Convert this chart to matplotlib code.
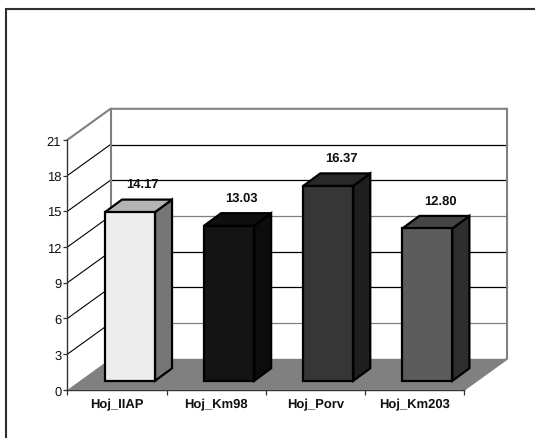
import matplotlib
matplotlib.use("Agg")
import matplotlib.pyplot as plt
from matplotlib.lines import Line2D
from matplotlib.patches import Polygon

categories = ["Hoj_IIAP", "Hoj_Km98", "Hoj_Porv", "Hoj_Km203"]
values = [14.17, 13.03, 16.37, 12.80]
labels = ["14.17", "13.03", "16.37", "12.80"]
yticks = [0, 3, 6, 9, 12, 15, 18, 21]
front = ["#ececec", "#141414", "#363636", "#5c5c5c"]
top = ["#b4b4b4", "#0f0f0f", "#282828", "#454545"]
side = ["#767676", "#0c0c0c", "#1e1e1e", "#2e2e2e"]
grid_colors = ["#808080", "#000000", "#000000", "#808080", "#000000", "#000000"]

W, H = 535, 439
plt.rcParams["font.family"] = ["Liberation Sans", "DejaVu Sans"]
plt.rcParams["text.hinting"] = "no_hinting"
plt.rcParams["text.hinting_factor"] = 1
fig = plt.figure(figsize=(W / 100, H / 100), dpi=100)
fig.patch.set_facecolor("white")
# outer chart border: only top and left edges are visible, running off the picture
fig.add_artist(Line2D([5.5 / W, 5.5 / W, 1], [0, 1 - 10 / H, 1 - 10 / H], transform=fig.transFigure,
                      color="#2e2e2e", lw=1.5, solid_joinstyle="miter"))
L, R, T, B = 67.5, 464, 140.8, 390.8
ax = fig.add_axes([L / W, 1 - B / H, (R - L) / W, (B - T) / H])
ax.set_xlim(0, 4)
ax.set_ylim(0, 21)
ax.patch.set_visible(False)
DX = 43 / 99.1
DY = 31 / 11.9

# walls and floor
ax.add_patch(Polygon([(0, 0), (4, 0), (4 + DX, DY), (DX, DY)], fc="#808080", ec="none", clip_on=False, zorder=1))
for v, c in zip(yticks[1:-1], grid_colors):
    ax.plot([DX, 4 + DX], [v + DY, v + DY], color=c, lw=0.9, clip_on=False, zorder=1.5)
for v in yticks[1:-1]:
    ax.plot([0, DX], [v, v + DY], color="black", lw=0.8, clip_on=False, zorder=1.5)
ax.plot([0, DX, 4 + DX, 4 + DX, 4], [21, 21 + DY, 21 + DY, DY, 0], color="#808080", lw=1.5,
        clip_on=False, zorder=1.6, solid_joinstyle="miter")
ax.plot([DX, DX], [DY, 21 + DY], color="#808080", lw=1.5, clip_on=False, zorder=1.6)

# bars
BW = 50 / 99.1
OFF = (105 - L) / 99.1
DBX, DBY = 17 / 99.1, 12.5 / 11.9
Y0 = (390 - 381) / 11.9
for i, v in enumerate(values):
    x0 = i + OFF
    x1 = x0 + BW
    y1 = Y0 + v
    kw = dict(ec="black", lw=1.6, joinstyle="miter", clip_on=False, zorder=3)
    ax.add_patch(Polygon([(x1, Y0), (x1 + DBX, Y0 + DBY), (x1 + DBX, y1 + DBY), (x1, y1)], fc=side[i], **kw))
    ax.add_patch(Polygon([(x0, y1), (x0 + DBX, y1 + DBY), (x1 + DBX, y1 + DBY), (x1, y1)], fc=top[i], **kw))
    ax.add_patch(Polygon([(x0, Y0), (x1, Y0), (x1, y1), (x0, y1)], fc=front[i], **kw))
    ax.text(i + 0.76, y1 + DBY + 1.3, labels[i], ha="center", va="center",
            fontsize=9.6, fontweight="bold", color="#111111", zorder=4, clip_on=False)

# axes
for s in ("top", "right"):
    ax.spines[s].set_visible(False)
for s in ("left", "bottom"):
    ax.spines[s].set_color("#333333")
    ax.spines[s].set_linewidth(1)
    ax.spines[s].set_zorder(5)
ax.set_yticks(yticks)
ax.set_yticklabels([str(t) for t in yticks], fontsize=9.3, color="#111111")
ax.set_xticks(range(5))
ax.set_xticklabels([])
ax.set_xticks([i + 0.5 for i in range(4)], minor=True)
ax.set_xticklabels(categories, minor=True, fontsize=9.6, fontweight="bold", color="#111111")
ax.tick_params(axis="x", which="minor", length=0, pad=6)
ax.tick_params(axis="x", which="major", length=3.5, width=0.9, color="#333333")
ax.tick_params(axis="y", length=3, width=0.9, color="#333333", pad=1.5)
fig.savefig("out.png", dpi=100, facecolor="white")
